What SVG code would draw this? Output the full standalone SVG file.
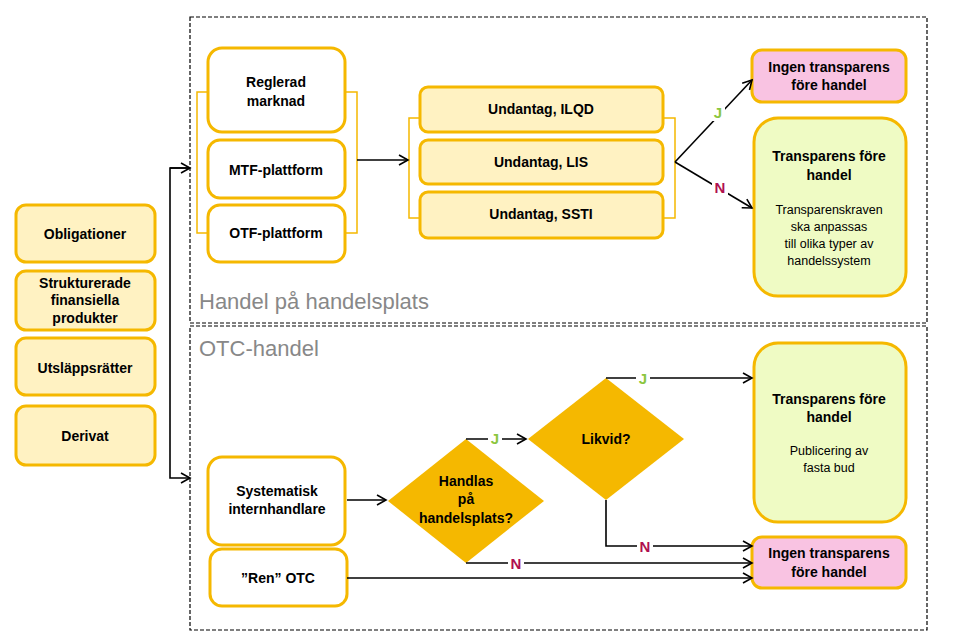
<svg xmlns="http://www.w3.org/2000/svg" width="966" height="637" viewBox="0 0 966 637">
<defs>
<marker id="ar" markerWidth="12" markerHeight="12" refX="10" refY="6" orient="auto" markerUnits="userSpaceOnUse"><path d="M1,1 L10,6 L1,11" fill="none" stroke="#000" stroke-width="1.6"/></marker>
</defs>
<style>
text{font-family:"Liberation Sans",Arial,sans-serif;text-anchor:middle}
.b{font-weight:bold;font-size:14px}
.s{font-size:12.5px}
.y{fill:#fff2c2;stroke:#f5b800;stroke-width:3}
.w{fill:#fff;stroke:#f5b800;stroke-width:3}
.p{fill:#f9c3e2;stroke:#f5b800;stroke-width:3}
.g{fill:#effbc4;stroke:#f5b800;stroke-width:3}
.d{fill:#f5b800}
.br{fill:none;stroke:#f5b800;stroke-width:1.5}
.c{fill:none;stroke:#000;stroke-width:1.6}
.J{fill:#8cc63f;font-weight:bold;font-size:15px}
.N{fill:#b0104f;font-weight:bold;font-size:15px}
.area{fill:none;stroke:#000;stroke-width:1.2;stroke-dasharray:4,2}
.lab{font-size:22px;fill:#888;text-anchor:start}
</style>
<rect class="area" x="190" y="17" width="737" height="306"/>
<rect class="area" x="190" y="326" width="737" height="304"/>
<text class="lab" x="199" y="309">Handel på handelsplats</text>
<text class="lab" x="199" y="356">OTC-handel</text>
<path class="br" d="M208,92 H197 V233 H208 M345,92 H357 V233 H345"/>
<path class="br" d="M420,118 H409 V218 H420 M663,118 H675 V218 H663"/>
<g id="obligationer"><rect class="y" x="16" y="205" width="139" height="57" rx="10"/><text class="b" x="85" y="239">Obligationer</text></g>
<g id="strukturerade"><rect class="y" x="16" y="271" width="139" height="59" rx="10"/><text class="b" x="85" y="288">Strukturerade</text><text class="b" x="85" y="305">finansiella</text><text class="b" x="85" y="323">produkter</text></g>
<g id="utslapp"><rect class="y" x="16" y="338" width="139" height="57" rx="10"/><text class="b" x="85" y="373">Utsläppsrätter</text></g>
<g id="derivat"><rect class="y" x="16" y="406" width="139" height="59" rx="10"/><text class="b" x="85" y="441">Derivat</text></g>
<g id="reglerad"><rect class="w" x="208" y="48" width="137" height="84" rx="14"/><text class="b" x="276" y="87">Reglerad</text><text class="b" x="276" y="106">marknad</text></g>
<g id="mtf"><rect class="w" x="208" y="140" width="137" height="58" rx="12"/><text class="b" x="276" y="175">MTF-plattform</text></g>
<g id="otf"><rect class="w" x="208" y="205" width="137" height="57" rx="12"/><text class="b" x="276" y="238">OTF-plattform</text></g>
<g id="ilqd"><rect class="y" x="420" y="87" width="243" height="45" rx="8"/><text class="b" x="541" y="114">Undantag, ILQD</text></g>
<g id="lis"><rect class="y" x="420" y="140" width="243" height="44" rx="8"/><text class="b" x="541" y="167">Undantag, LIS</text></g>
<g id="ssti"><rect class="y" x="420" y="192" width="243" height="46" rx="8"/><text class="b" x="541" y="219">Undantag, SSTI</text></g>
<g id="ingen1"><rect class="p" x="752" y="50" width="154" height="52" rx="10"/><text class="b" x="829" y="72">Ingen transparens</text><text class="b" x="829" y="90">före handel</text></g>
<g id="trans1"><rect class="g" x="754" y="118" width="152" height="178" rx="24"/><text class="b" x="829" y="161">Transparens före</text><text class="b" x="829" y="180">handel</text><text class="s" x="829" y="214">Transparenskraven</text><text class="s" x="829" y="231">ska anpassas</text><text class="s" x="829" y="248">till olika typer av</text><text class="s" x="829" y="265">handelssystem</text></g>
<g id="trans2"><rect class="g" x="754" y="343" width="152" height="179" rx="24"/><text class="b" x="829" y="404">Transparens före</text><text class="b" x="829" y="422">handel</text><text class="s" x="829" y="455">Publicering av</text><text class="s" x="829" y="472">fasta bud</text></g>
<g id="ingen2"><rect class="p" x="752" y="537" width="154" height="51" rx="10"/><text class="b" x="829" y="558">Ingen transparens</text><text class="b" x="829" y="577">före handel</text></g>
<g id="systematisk"><rect class="w" x="208" y="457" width="137" height="88" rx="14"/><text class="b" x="277" y="496">Systematisk</text><text class="b" x="277" y="514">internhandlare</text></g>
<g id="ren"><rect class="w" x="210" y="549" width="137" height="57" rx="12"/><text class="b" x="278" y="583">”Ren” OTC</text></g>
<g id="handlas"><polygon class="d" points="466,439 544,501 466,563 388,501"/><text class="b" x="466" y="486">Handlas</text><text class="b" x="466" y="504">på</text><text class="b" x="466" y="523">handelsplats?</text></g>
<g id="likvid"><polygon class="d" points="606,378 684,439 606,500 528,439"/><text class="b" x="606" y="444">Likvid?</text></g>
<g id="connectors">
<path class="c" d="M190,168 H170 V478 H190" marker-end="url(#ar)"/>
<path class="c" d="M170,168 H190" marker-end="url(#ar)"/>
<path class="c" d="M357,160 H408" marker-end="url(#ar)"/>
<path class="c" d="M675,162 L752,80" marker-end="url(#ar)"/>
<path class="c" d="M675,162 L752,208" marker-end="url(#ar)"/>
<path class="c" d="M347,500 H386" marker-end="url(#ar)"/>
<path class="c" d="M466,439 H526" marker-end="url(#ar)"/>
<path class="c" d="M606,378 H752" marker-end="url(#ar)"/>
<path class="c" d="M606,500 V546 H752" marker-end="url(#ar)"/>
<path class="c" d="M466,563 H752" marker-end="url(#ar)"/>
<path class="c" d="M347,578 H752" marker-end="url(#ar)"/>
<rect x="711" y="103" width="14" height="18" fill="#fff"/><text class="J" x="718" y="118">J</text>
<rect x="712" y="178" width="16" height="18" fill="#fff"/><text class="N" x="720" y="193">N</text>
<rect x="488" y="430" width="14" height="18" fill="#fff"/><text class="J" x="495" y="444">J</text>
<rect x="636" y="369" width="14" height="18" fill="#fff"/><text class="J" x="643" y="384">J</text>
<rect x="637" y="537" width="16" height="18" fill="#fff"/><text class="N" x="645" y="552">N</text>
<rect x="508" y="554" width="16" height="18" fill="#fff"/><text class="N" x="516" y="569">N</text>
</g>
</svg>
